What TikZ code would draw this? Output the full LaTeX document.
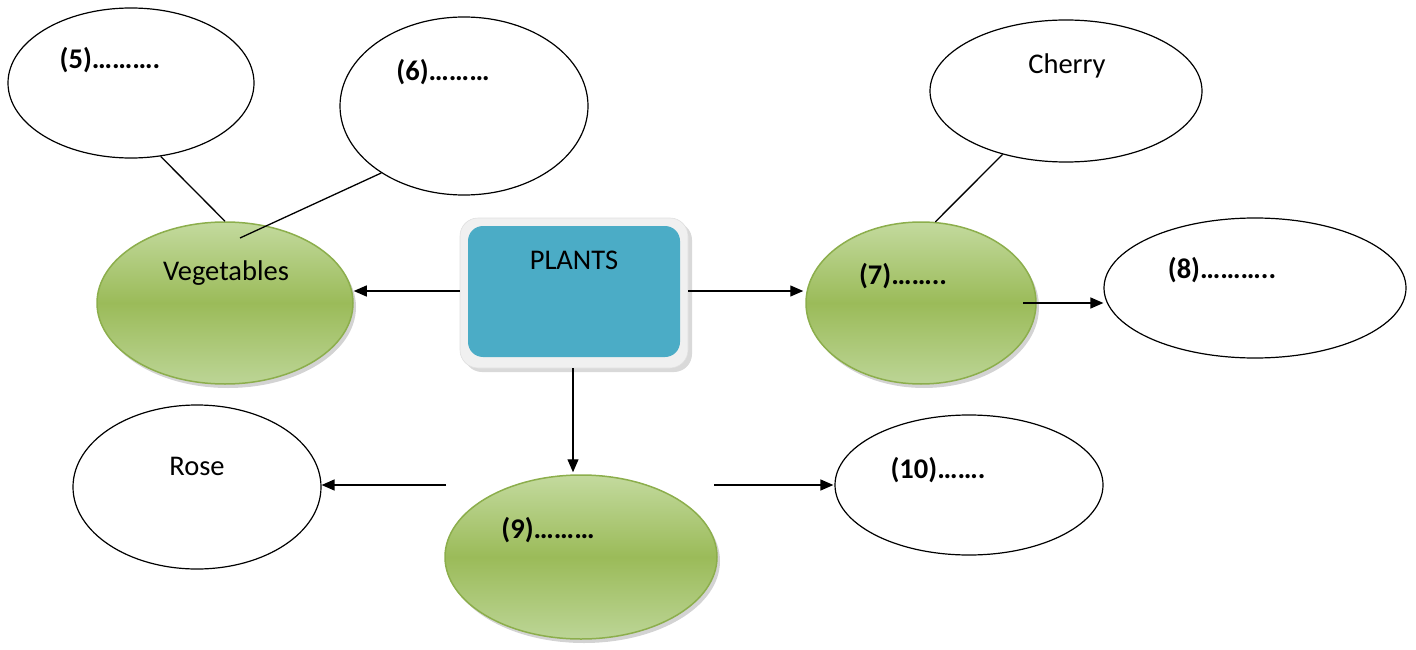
\documentclass[tikz,border=0pt]{standalone}
\usepackage{fontspec}
\setmainfont{Carlito}
\usetikzlibrary{shapes.geometric,arrows.meta,shadows,calc}
\definecolor{gtop}{HTML}{C3DA9E}
\definecolor{gmid}{HTML}{9BBB59}
\definecolor{gbot}{HTML}{BCD596}
\definecolor{gedge}{HTML}{8CAE4C}
\definecolor{bluefill}{HTML}{4BACC6}
\definecolor{frame}{HTML}{F0F0F0}
\tikzset{
  blank/.style={ellipse,draw=black,line width=1.2pt,fill=white,inner sep=0pt},
  greenell/.style={ellipse,draw=gedge,line width=1.5pt,inner sep=0pt,
    top color=gtop,bottom color=gbot,middle color=gmid,
    drop shadow={opacity=0.35,shadow xshift=3pt,shadow yshift=-4pt}},
  lbl/.style={font=\fontsize{28.5}{32}\selectfont,inner sep=0pt},
  blbl/.style={font=\fontsize{28.5}{32}\selectfont\bfseries,inner sep=0pt},
  conn/.style={line width=1.3pt,draw=black},
  arr/.style={conn,-{Triangle[length=13pt,width=11pt]}}
}
\begin{document}
\begin{tikzpicture}[x=1pt,y=-1pt]
\useasboundingbox (0,0) rectangle (1416,650);
% white ellipses
\node[blank,minimum width=246pt,minimum height=150pt] (e5) at (131,83) {};
\node[blank,minimum width=248pt,minimum height=178pt] (e6) at (464,106) {};
\node[blank,minimum width=272pt,minimum height=142pt] (cherry) at (1066,91) {};
\node[blank,minimum width=302pt,minimum height=140pt] (e8) at (1255,288) {};
\node[blank,minimum width=248pt,minimum height=164pt] (rose) at (197,487) {};
\node[blank,minimum width=268pt,minimum height=140pt] (e10) at (969,485) {};
% green ellipses
\node[greenell,minimum width=256pt,minimum height=162pt] (veg) at (225,303) {};
\node[greenell,minimum width=230pt,minimum height=162pt] (e7) at (921,303) {};
\node[greenell,minimum width=272pt,minimum height=164pt] (e9) at (581,557) {};
% central box
\node[rectangle,rounded corners=18pt,fill=frame,draw=gray!25,line width=0.6pt,
  minimum width=228pt,minimum height=150pt,
  drop shadow={opacity=0.3,shadow xshift=4pt,shadow yshift=-4pt}] (box) at (574,293) {};
\node[rectangle,rounded corners=15pt,fill=bluefill,
  minimum width=212pt,minimum height=131pt] (boxin) at (574,291.5) {};
% texts
\node[blbl] (t5) at (110,60) {(5)……….};
\node[blbl] (t6) at (443,72) {(6)………};
\node[lbl] (tch) at (1067,66) {Cherry};
\node[lbl] (tveg) at (226,273) {Vegetables};
\node[lbl] (tpl) at (574,260) {PLANTS};
\node[blbl] (t7) at (903,276) {(7)……..};
\node[blbl] (t8) at (1222,270) {(8)………..};
\node[blbl] (t9) at (548,530) {(9)………};
\node[lbl] (trose) at (197,466) {Rose};
\node[blbl] (t10) at (938,470) {(10)…….};
% coordinates for free ends
\coordinate (vegin) at (240,238);
\coordinate (a78) at (1023,303);
\coordinate (a9r) at (446,485);
\coordinate (a910) at (714,485);
% connectors
\draw[conn] (e5.-68.6) -- (veg.north);
\draw[conn] (e6.-141.9) -- (vegin);
\draw[conn] (cherry.225) -- (e7.80);
\draw[arr] ($(box.west)+(0,-2)$) -- ($(box.west -| veg.east)+(0,-2)$);
\draw[arr] ($(box.east)+(0,-2)$) -- ($(box.east -| e7.west)+(-2,-2)$);
\draw[arr] ($(box.south)+(-1,0)$) -- ($(box.south |- e9.north)+(-1,-2)$);
\draw[arr] (a78) -- (a78 -| e8.west);
\draw[arr] (a9r) -- (a9r -| rose.east);
\draw[arr] (a910) -- ($(a910 -| e10.west)+(-1,0)$);
\end{tikzpicture}
\end{document}
